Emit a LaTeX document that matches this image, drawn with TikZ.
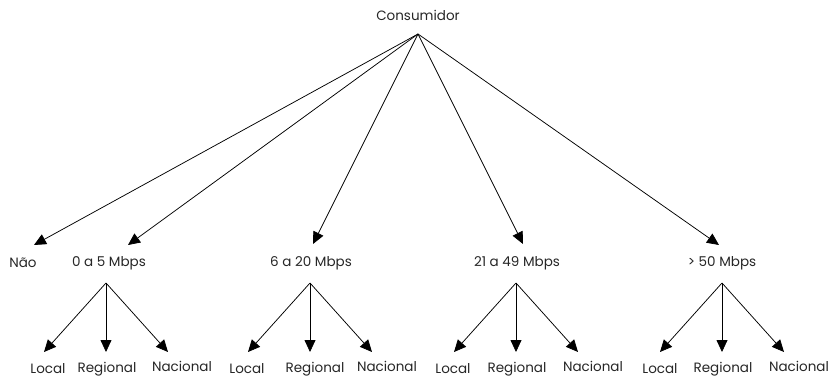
\documentclass[tikz,border=0pt]{standalone}
\usepackage{fontspec}
\setmainfont{Poppins}
\usetikzlibrary{arrows.meta}
\begin{document}
\begin{tikzpicture}[x=1pt,y=-1pt,
  lbl/.style={font=\fontsize{13.5}{16}\selectfont, inner sep=0pt, text=black!85},
  arr/.style={line width=0.75pt, -{Triangle[length=12pt,width=11pt]}}]
\useasboundingbox (0,0) rectangle (832,377);

% root
\node[lbl] (cons) at (418,15) {Consumidor};
\coordinate (apex) at (418,34);

% first level
\node[lbl] (nao) at (23,263) {Não};
\node[lbl] (g1) at (109,263) {0 a 5 Mbps};
\node[lbl] (g2) at (311,263) {6 a 20 Mbps};
\node[lbl] (g3) at (517,263) {21 a 49 Mbps};
\node[lbl] (g4) at (722,263) {> 50 Mbps};

\coordinate (tnao) at (34,245);
\coordinate (t1) at (128,245);
\coordinate (t2) at (313,244);
\coordinate (t3) at (523,244);
\coordinate (t4) at (719,245);

\foreach \t in {tnao,t1,t2,t3,t4}
  \draw[arr] (apex) -- (\t);

% second level
\foreach \g/\ax/\lx/\rx/\nx in {1/106/48/107/182, 2/310/247/315/387, 3/516/453/517/593, 4/722/660/723/799} {
  \coordinate (s\g) at (\ax,283);
  \coordinate (s\g l) at (\ax-62,352);
  \coordinate (s\g r) at (\ax,352);
  \coordinate (s\g n) at (\ax+62,352);
  \node[lbl] (loc\g) at (\lx,369) {Local};
  \node[lbl] (reg\g) at (\rx,369) {Regional};
  \node[lbl] (nac\g) at (\nx,366) {Nacional};
  \draw[arr] (s\g) -- (s\g l);
  \draw[arr] (s\g) -- (s\g r);
  \draw[arr] (s\g) -- (s\g n);
}
\end{tikzpicture}
\end{document}
